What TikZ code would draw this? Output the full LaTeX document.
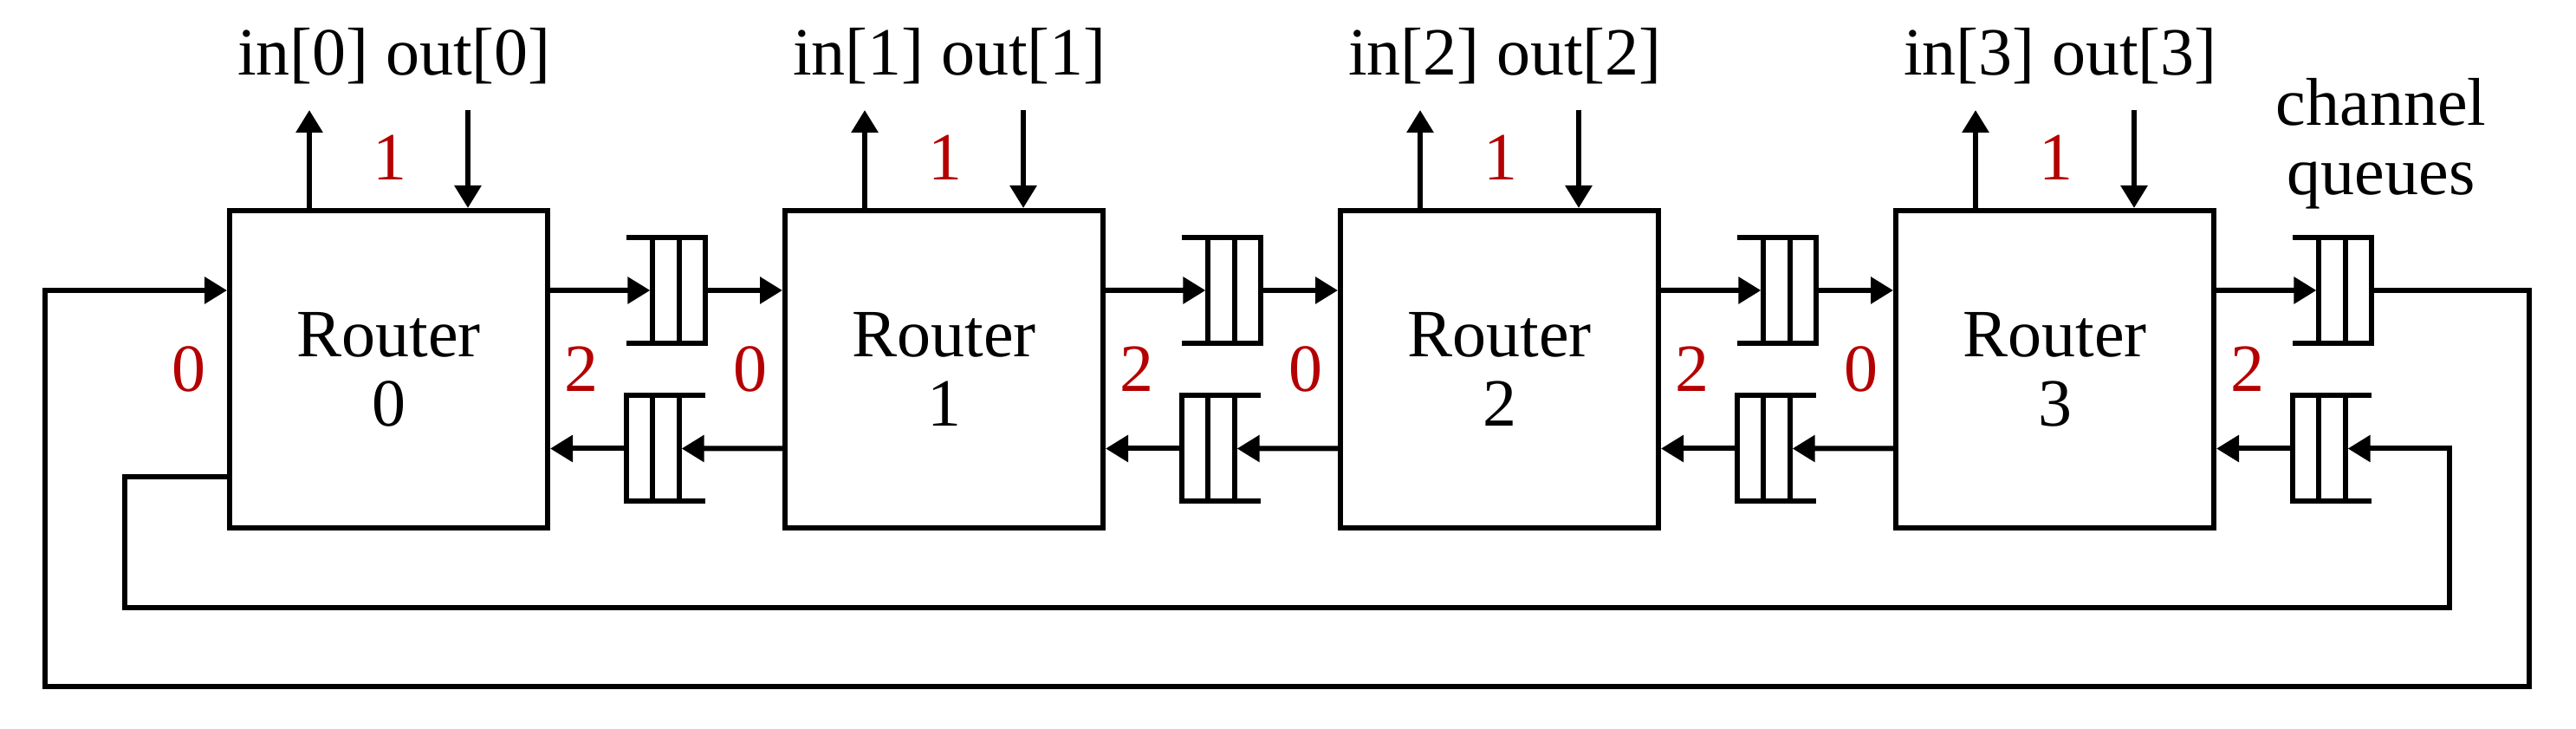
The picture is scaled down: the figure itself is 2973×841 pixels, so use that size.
\documentclass[tikz,border=0pt]{standalone}
\usepackage{fontspec}
\setmainfont{Liberation Serif}
\usetikzlibrary{arrows.meta,calc}
\definecolor{portred}{RGB}{180,0,0}
\tikzset{
  wire/.style={line width=1.5pt},
  arr/.style={wire,-{Triangle[length=6.5pt,width=7.5pt]}},
  router/.style={draw,line width=1.5pt,minimum width=91.75pt,minimum height=91.5pt,
    inner sep=0pt,align=center,font=\fontsize{19.5}{20}\selectfont},
  queue/.style={inner sep=0pt,outer sep=0pt,minimum width=22.75pt,minimum height=30.5pt},
  lbl/.style={font=\fontsize{19.5}{20}\selectfont},
  port/.style={lbl,text=portred},
}
% queue open on the left, closed on the right (entry at first divider)
\newcommand\queueopenleft[1]{%
  \draw[wire] (#1.north west) -- (#1.north east) -- (#1.south east) -- (#1.south west);
  \draw[wire] ($(#1.north west)!1/3!(#1.north east)$) -- ($(#1.south west)!1/3!(#1.south east)$);
  \draw[wire] ($(#1.north west)!2/3!(#1.north east)$) -- ($(#1.south west)!2/3!(#1.south east)$);
  \coordinate (#1-in) at ($(#1.west)!1/3!(#1.east)$);
}
% queue open on the right, closed on the left (entry at second divider)
\newcommand\queueopenright[1]{%
  \draw[wire] (#1.north east) -- (#1.north west) -- (#1.south west) -- (#1.south east);
  \draw[wire] ($(#1.north west)!1/3!(#1.north east)$) -- ($(#1.south west)!1/3!(#1.south east)$);
  \draw[wire] ($(#1.north west)!2/3!(#1.north east)$) -- ($(#1.south west)!2/3!(#1.south east)$);
  \coordinate (#1-in) at ($(#1.west)!2/3!(#1.east)$);
}
\begin{document}
\begin{tikzpicture}[x=0.25pt,y=-0.25pt]
\useasboundingbox (0,0) rectangle (2973,841);
\foreach \i in {0,1,2,3} {
  \node[router] (R\i) at ({448.5+641*\i},426) {Router\\\i};
  \node[queue] (Qa\i) at ({768.5+641*\i},335) {};
  \node[queue] (Qb\i) at ({768.5+641*\i},517.5) {};
  \queueopenleft{Qa\i}
  \queueopenright{Qb\i}
  \node[lbl,anchor=base] (T\i) at ({455+641*\i},87) {in[\i] out[\i]};
  \node[port,anchor=base] (P1\i) at ({450+641*\i},208) {1};
  \coordinate (I\i) at ({357+641*\i},127);
  \coordinate (O\i) at ({540+641*\i},127);
  \draw[arr] (R\i.north -| I\i) -- (I\i);
  \draw[arr] (O\i) -- (R\i.north -| O\i);
  \node[port] (P2\i) at ($(R\i.east)+(36,0)$) {2};
  \draw[arr,shorten >=0.75pt] (R\i.east |- Qa\i) -- (Qa\i-in);
  \draw[arr] (Qb\i.west) -- (R\i.east |- Qb\i);
}
\node[port] (P00) at ($(R0.west)+(-44,0)$) {0};
\foreach \i/\j in {0/1,1/2,2/3} {
  \node[port] (P0\j) at ($(R\j.west)+(-37,0)$) {0};
  \draw[arr] (Qa\i.east) -- (R\j.west |- Qa\i);
  \draw[arr,shorten >=0.75pt] (R\j.west |- Qb\i) -- (Qb\i-in);
}
% outer loop: router 3 port 2 -> router 0 port 0
\coordinate (oR) at (2919,792);
\coordinate (oL) at (52,792);
\draw[arr] (Qa3.east) -| (oR) -- (oL) |- (R0.west |- Qa0);
% inner loop: router 0 port 0 -> router 3 port 2
\coordinate (iL) at (144,701);
\coordinate (iR) at (2827,701);
\coordinate (r0s) at ($(R0.north west)!0.833!(R0.south west)$);
\draw[arr,shorten >=0.75pt] (r0s) -| (iL) -- (iR) |- (Qb3-in);
\node[lbl,align=center,anchor=base] (CQ) at (2748,225) {channel\\queues};
\end{tikzpicture}
\end{document}
